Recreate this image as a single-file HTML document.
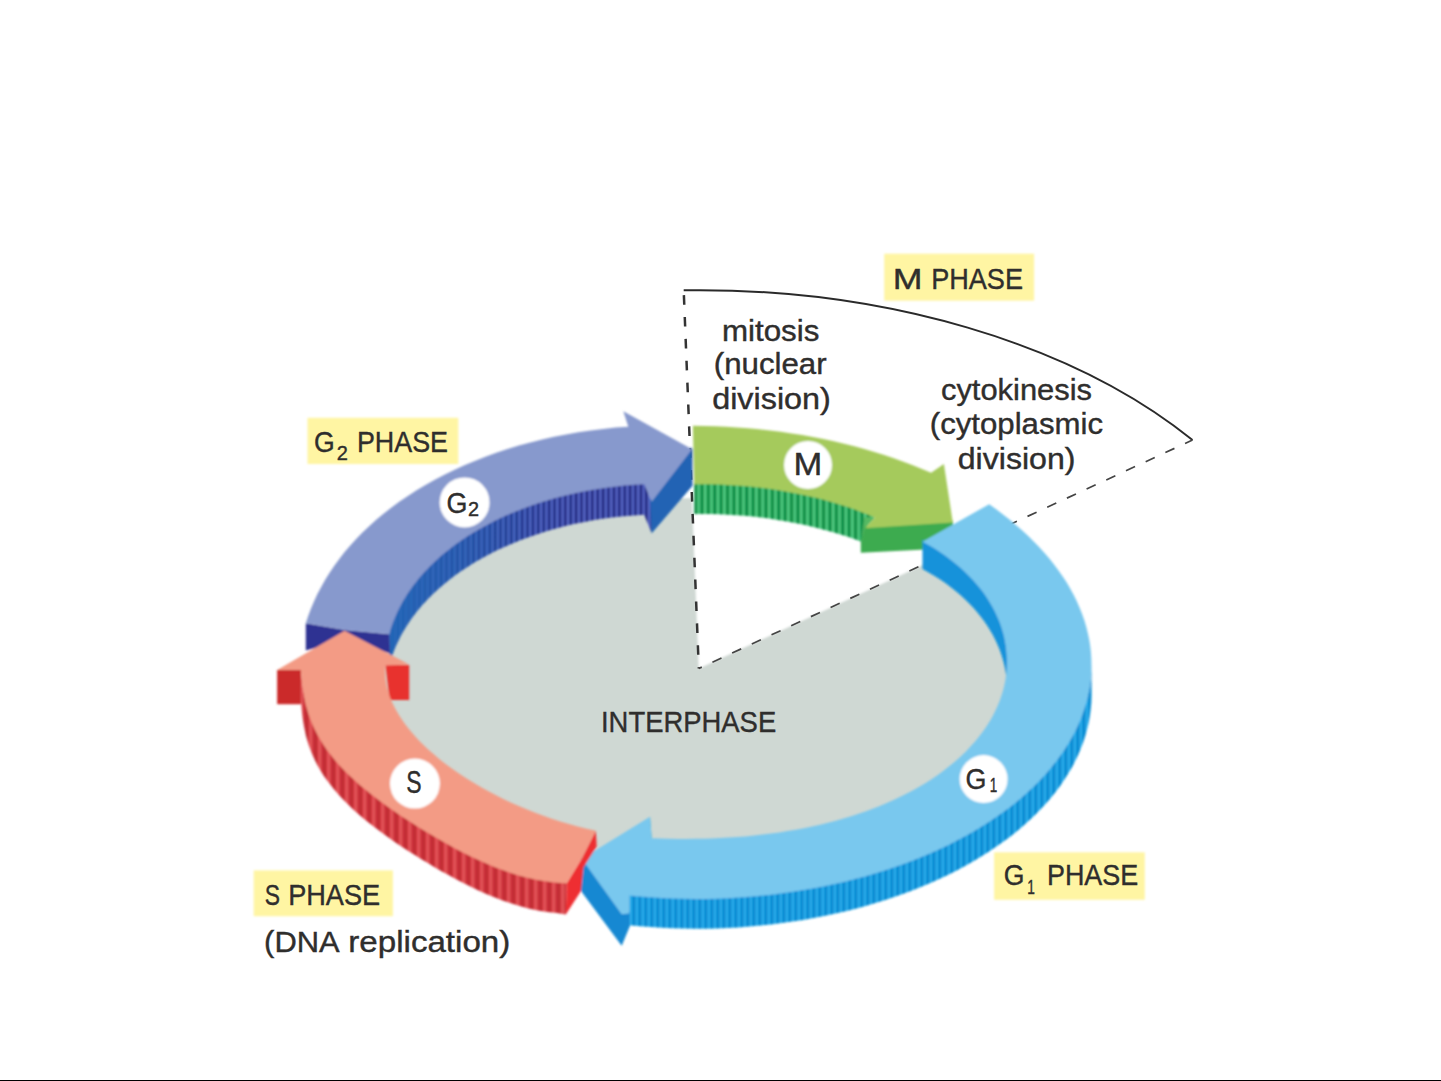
<!DOCTYPE html>
<html lang="en">
<head>
<meta charset="utf-8">
<title>The cell cycle</title>
<style>
html,body{margin:0;padding:0;background:#fff;}
body{width:1441px;height:1081px;overflow:hidden;position:relative;font-family:"Liberation Sans",sans-serif;}
svg{position:absolute;left:0;top:0;display:block;}
text{font-family:"Liberation Sans",sans-serif;fill:#2f2e2d;stroke:#2f2e2d;stroke-width:0.4px;}
</style>
</head>
<body>
<svg width="1441" height="1081" viewBox="0 0 1441 1081">
<defs>
<pattern id="stG2" width="5.4" height="8" patternUnits="userSpaceOnUse"><rect width="5.4" height="8" fill="#2a3390"/><rect x="0" width="2" height="8" fill="#5b6ccb"/><rect x="3.4" width="1" height="8" fill="#1d2474"/></pattern>
<pattern id="stM" width="6.4" height="8" patternUnits="userSpaceOnUse"><rect width="6.4" height="8" fill="#159a4e"/><rect x="0" width="2.2" height="8" fill="#58d088"/><rect x="4" width="1" height="8" fill="#0b803e"/></pattern>
<pattern id="stG1" width="6" height="8" patternUnits="userSpaceOnUse"><rect width="6" height="8" fill="#0a8ed4"/><rect x="0" width="1.6" height="8" fill="#35b8f4"/></pattern>
<pattern id="stS" width="9" height="8" patternUnits="userSpaceOnUse"><rect width="9" height="8" fill="#d7373f"/><rect x="0" width="1.4" height="8" fill="#ab2028"/><rect x="3.6" width="2.2" height="8" fill="#e4585c"/><rect x="6.8" width="0.9" height="8" fill="#bc2a32"/></pattern>
<linearGradient id="gwG2" gradientUnits="userSpaceOnUse" x1="390" x2="650" y1="0" y2="0"><stop offset="0" stop-color="#2468b8" stop-opacity="0.95"/><stop offset="0.3" stop-color="#2468b8" stop-opacity="0.6"/><stop offset="0.55" stop-color="#2468b8" stop-opacity="0.15"/><stop offset="0.72" stop-color="#2468b8" stop-opacity="0"/></linearGradient>
</defs>
<filter id="soft" x="0" y="0" width="1441" height="1081" filterUnits="userSpaceOnUse"><feGaussianBlur stdDeviation="0.85"/></filter>
<g filter="url(#soft)">
<ellipse cx="699" cy="684" rx="322" ry="186" fill="#cfd8d3"/>
<path d="M698.8 668.5 L683.7 290.3 A619 378 0 0 1 1192.5 440.0 Z" fill="#fff"/>
</g>
<path d="M683.7 290.3 A619 378 0 0 1 1192.5 440.0" fill="none" stroke="#2a2a2a" stroke-width="1.9"/>
<path d="M683.7 290.3 L698.8 668.5" fill="none" stroke="#333" stroke-width="2.5" stroke-dasharray="9.6 12.3" stroke-dashoffset="-4.8"/>
<path d="M1192.5 440.0 L698.8 668.5" fill="none" stroke="#444" stroke-width="1.7" stroke-dasharray="10 11.7" stroke-dashoffset="1.8"/>
<g filter="url(#soft)">
<path d="M694.2 482.2 L702.6 482.2 L711.0 482.3 L719.4 482.5 L727.8 482.9 L736.2 483.4 L744.5 484.0 L752.8 484.8 L761.1 485.8 L769.3 486.8 L777.4 488.1 L785.5 489.4 L793.5 490.9 L801.5 492.5 L809.3 494.2 L817.1 496.1 L824.7 498.1 L832.3 500.2 L839.7 502.5 L847.1 504.8 L854.2 507.3 L861.3 509.9 L868.2 512.7 L875.0 515.5 L865.0 528.3 L860.8 542.5 L861.3 541.7 L854.2 539.1 L847.1 536.6 L839.7 534.3 L832.3 532.0 L824.7 529.9 L817.1 527.9 L809.3 526.0 L801.5 524.3 L793.5 522.7 L785.5 521.2 L777.4 519.9 L769.3 518.6 L761.1 517.6 L752.8 516.6 L744.5 515.8 L736.2 515.2 L727.8 514.7 L719.4 514.3 L711.0 514.1 L702.6 514.0 L694.2 514.0 Z" fill="url(#stM)"/>
<path d="M875.0 517.5 L865.0 528.3 L860.8 542.5 L864.4 517.0 Z" fill="#55b964"/>
<path d="M865.0 526.0 L952.8 520.5 L953.6 548.0 L925.0 549.5 L860.8 552.8 L860.8 542.5 Z" fill="#3cab50"/>
<path d="M692.9 425.8 L704.0 425.9 L715.1 426.2 L726.1 426.7 L737.1 427.4 L748.1 428.2 L759.1 429.3 L770.0 430.5 L780.8 431.8 L791.6 433.4 L802.3 435.1 L812.9 437.0 L823.4 439.1 L833.8 441.3 L844.1 443.8 L854.4 446.3 L864.4 449.1 L874.4 452.0 L884.2 455.1 L893.9 458.3 L903.4 461.7 L912.8 465.3 L922.0 469.0 L931.1 472.8 L943.9 463.9 L952.8 522.6 L865.0 528.3 L875.0 517.5 L875.0 517.5 L868.2 514.7 L861.3 511.9 L854.2 509.3 L847.1 506.8 L839.7 504.5 L832.3 502.2 L824.7 500.1 L817.1 498.1 L809.3 496.2 L801.5 494.5 L793.5 492.9 L785.5 491.4 L777.4 490.1 L769.3 488.8 L761.1 487.8 L752.8 486.8 L744.5 486.0 L736.2 485.4 L727.8 484.9 L719.4 484.5 L711.0 484.3 L702.6 484.2 L694.2 484.2 Z" fill="#a5ca5c"/>
<path d="M389.2 632.2 L390.9 626.6 L392.8 621.0 L395.0 615.4 L397.4 609.9 L400.1 604.4 L403.1 599.0 L406.4 593.6 L409.9 588.2 L413.7 582.9 L417.8 577.7 L422.2 572.5 L426.9 567.4 L431.8 562.4 L437.1 557.5 L442.6 552.6 L448.4 547.9 L454.4 543.2 L460.8 538.7 L467.4 534.3 L474.3 530.0 L481.4 525.9 L488.8 521.9 L496.4 518.0 L504.3 514.3 L512.5 510.8 L520.8 507.5 L529.4 504.3 L538.1 501.3 L547.1 498.5 L556.2 495.8 L565.5 493.4 L575.0 491.2 L584.6 489.3 L594.3 487.5 L604.2 486.0 L614.1 484.7 L624.1 483.6 L634.1 482.8 L644.2 482.2 L651.7 501.7 L651.7 533.3 L644.2 514.8 L634.1 515.4 L624.1 516.2 L614.1 517.3 L604.2 518.6 L594.3 520.1 L584.6 521.9 L575.0 523.8 L565.5 526.0 L556.2 528.4 L547.1 531.1 L538.1 533.9 L529.4 536.9 L520.8 540.1 L512.5 543.4 L504.3 546.9 L496.4 550.6 L488.8 554.5 L481.4 558.5 L474.3 562.6 L467.4 566.9 L460.8 571.3 L454.4 575.8 L448.4 580.5 L442.6 585.2 L437.1 590.1 L431.8 595.0 L426.9 600.0 L422.2 605.1 L417.8 610.3 L413.7 615.5 L409.9 620.8 L406.4 626.2 L403.1 631.6 L400.1 637.0 L397.4 642.5 L395.0 648.0 L392.8 653.6 L390.9 659.2 L389.2 664.8 L389.5 654.0  Z" fill="url(#stG2)"/>
<path d="M389.2 632.2 L390.9 626.6 L392.8 621.0 L395.0 615.4 L397.4 609.9 L400.1 604.4 L403.1 599.0 L406.4 593.6 L409.9 588.2 L413.7 582.9 L417.8 577.7 L422.2 572.5 L426.9 567.4 L431.8 562.4 L437.1 557.5 L442.6 552.6 L448.4 547.9 L454.4 543.2 L460.8 538.7 L467.4 534.3 L474.3 530.0 L481.4 525.9 L488.8 521.9 L496.4 518.0 L504.3 514.3 L512.5 510.8 L520.8 507.5 L529.4 504.3 L538.1 501.3 L547.1 498.5 L556.2 495.8 L565.5 493.4 L575.0 491.2 L584.6 489.3 L594.3 487.5 L604.2 486.0 L614.1 484.7 L624.1 483.6 L634.1 482.8 L644.2 482.2 L651.7 501.7 L651.7 533.3 L644.2 514.8 L634.1 515.4 L624.1 516.2 L614.1 517.3 L604.2 518.6 L594.3 520.1 L584.6 521.9 L575.0 523.8 L565.5 526.0 L556.2 528.4 L547.1 531.1 L538.1 533.9 L529.4 536.9 L520.8 540.1 L512.5 543.4 L504.3 546.9 L496.4 550.6 L488.8 554.5 L481.4 558.5 L474.3 562.6 L467.4 566.9 L460.8 571.3 L454.4 575.8 L448.4 580.5 L442.6 585.2 L437.1 590.1 L431.8 595.0 L426.9 600.0 L422.2 605.1 L417.8 610.3 L413.7 615.5 L409.9 620.8 L406.4 626.2 L403.1 631.6 L400.1 637.0 L397.4 642.5 L395.0 648.0 L392.8 653.6 L390.9 659.2 L389.2 664.8 L389.5 654.0  Z" fill="url(#gwG2)"/>
<path d="M650.0 499.0 L691.0 447.0 L692.5 449.3 L692.5 485.8 L651.7 533.3 Z" fill="#2064b4"/>
<path d="M305.8 623.3 L345.0 630.0 L389.2 634.2 L390.0 653.3 L345.0 640.0 L305.8 650.6 Z" fill="#2f3192"/>
<path d="M305.8 623.3 L308.2 615.9 L311.0 608.6 L314.1 601.3 L317.4 594.1 L321.2 586.9 L325.2 579.8 L329.6 572.8 L334.3 565.8 L339.3 558.9 L344.6 552.1 L350.3 545.4 L356.4 538.8 L362.7 532.3 L369.4 525.9 L376.5 519.6 L383.8 513.5 L391.5 507.5 L399.6 501.6 L407.9 495.9 L416.6 490.3 L425.5 485.0 L434.8 479.7 L444.4 474.7 L454.2 469.9 L464.4 465.3 L474.8 460.9 L485.4 456.7 L496.3 452.8 L507.5 449.1 L518.9 445.6 L530.4 442.4 L542.2 439.4 L554.1 436.8 L566.2 434.4 L578.4 432.2 L590.8 430.4 L603.2 428.9 L615.7 427.6 L628.3 426.7 L623.3 411.3 L692.1 449.3 L651.7 501.7 L644.2 484.2 L644.2 484.2 L634.1 484.8 L624.1 485.6 L614.1 486.7 L604.2 488.0 L594.3 489.5 L584.6 491.3 L575.0 493.2 L565.5 495.4 L556.2 497.8 L547.1 500.5 L538.1 503.3 L529.4 506.3 L520.8 509.5 L512.5 512.8 L504.3 516.3 L496.4 520.0 L488.8 523.9 L481.4 527.9 L474.3 532.0 L467.4 536.3 L460.8 540.7 L454.4 545.2 L448.4 549.9 L442.6 554.6 L437.1 559.5 L431.8 564.4 L426.9 569.4 L422.2 574.5 L417.8 579.7 L413.7 584.9 L409.9 590.2 L406.4 595.6 L403.1 601.0 L400.1 606.4 L397.4 611.9 L395.0 617.4 L392.8 623.0 L390.9 628.6 L389.2 634.2 L345.0 630.0  Z" fill="#8799cd"/>
<path d="M1007.0 659.3 L1006.9 654.4 L1006.5 649.5 L1005.9 644.6 L1005.1 639.7 L1004.1 634.8 L1002.8 630.0 L1001.3 625.1 L999.6 620.3 L997.6 615.5 L995.4 610.8 L993.0 606.0 L990.4 601.4 L987.5 596.7 L984.4 592.1 L981.0 587.6 L977.4 583.2 L973.6 578.8 L969.5 574.4 L965.2 570.2 L960.7 566.0 L955.9 561.9 L950.9 557.9 L945.7 554.0 L940.2 550.3 L934.6 546.6 L928.6 543.1 L922.5 539.7 L922.5 569.0 L928.6 572.4 L934.6 575.9 L940.2 579.6 L945.7 583.3 L950.9 587.2 L955.9 591.2 L960.7 595.3 L965.2 599.5 L969.5 603.7 L973.6 608.1 L977.4 612.5 L981.0 616.9 L984.4 621.4 L987.5 626.0 L990.4 630.7 L993.0 635.3 L995.4 640.1 L997.6 644.8 L999.6 649.6 L1001.3 654.4 L1002.8 659.3 L1004.1 664.1 L1005.1 669.0 L1005.9 673.9 L1006.5 678.8 L1006.9 683.7 L1007.0 688.6 Z" fill="#1292da"/>
<path d="M1091.5 664.3 L1091.3 670.9 L1090.7 677.4 L1089.9 684.0 L1088.7 690.6 L1087.2 697.1 L1085.4 703.6 L1083.3 710.1 L1080.9 716.5 L1078.2 722.9 L1075.2 729.3 L1071.9 735.6 L1068.2 741.8 L1064.3 748.0 L1060.1 754.1 L1055.6 760.1 L1050.8 766.1 L1045.8 772.0 L1040.4 777.7 L1034.8 783.4 L1028.9 789.0 L1022.8 794.5 L1016.4 799.9 L1009.8 805.2 L1002.9 810.3 L995.7 815.3 L988.4 820.3 L980.8 825.0 L973.0 829.7 L965.0 834.2 L956.8 838.6 L948.4 842.9 L939.8 847.0 L931.0 850.9 L922.0 854.8 L912.8 858.4 L903.5 861.9 L894.1 865.3 L884.5 868.5 L874.7 871.5 L864.8 874.4 L854.8 877.1 L844.7 879.7 L834.4 882.0 L824.1 884.2 L813.6 886.3 L803.1 888.1 L792.5 889.8 L781.8 891.3 L771.0 892.7 L760.2 893.8 L749.4 894.8 L738.5 895.6 L727.6 896.2 L716.6 896.7 L705.6 896.9 L694.7 897.0 L683.7 896.8 L672.7 896.5 L661.8 896.0 L650.9 895.3 L640.0 894.5 L629.2 893.4 L629.2 925.2 L640.0 926.3 L650.9 927.1 L661.8 927.8 L672.7 928.3 L683.7 928.6 L694.7 928.8 L705.6 928.7 L716.6 928.5 L727.6 928.0 L738.5 927.4 L749.4 926.6 L760.2 925.6 L771.0 924.5 L781.8 923.1 L792.5 921.6 L803.1 919.9 L813.6 918.1 L824.1 916.0 L834.4 913.8 L844.7 911.5 L854.8 908.9 L864.8 906.2 L874.7 903.3 L884.5 900.3 L894.1 897.1 L903.5 893.7 L912.8 890.2 L922.0 886.6 L931.0 882.7 L939.8 878.8 L948.4 874.7 L956.8 870.4 L965.0 866.0 L973.0 861.5 L980.8 856.8 L988.4 852.1 L995.7 847.1 L1002.9 842.1 L1009.8 837.0 L1016.4 831.7 L1022.8 826.3 L1028.9 820.8 L1034.8 815.2 L1040.4 809.5 L1045.8 803.8 L1050.8 797.9 L1055.6 791.9 L1060.1 785.9 L1064.3 779.8 L1068.2 773.6 L1071.9 767.4 L1075.2 761.1 L1078.2 754.7 L1080.9 748.3 L1083.3 741.9 L1085.4 735.4 L1087.2 728.9 L1088.7 722.4 L1089.9 715.8 L1090.7 709.2 L1091.3 702.7 L1091.5 696.1 Z" fill="url(#stG1)"/>
<path d="M583.0 857.0 L624.0 912.0 L630.0 911.5 L630.0 925.8 L621.7 945.8 L580.8 890.8 L580.8 859.0 Z" fill="#1488d2"/>
<path d="M646.7 835 L650 816.7 L651.7 838.3 Z" fill="#169ec0"/>
<path d="M989.2 504.2 L996.2 509.2 L1003.0 514.4 L1009.5 519.6 L1015.9 524.9 L1022.0 530.3 L1028.0 535.8 L1033.7 541.4 L1039.1 547.0 L1044.3 552.8 L1049.3 558.6 L1054.0 564.5 L1058.5 570.5 L1062.7 576.5 L1066.7 582.6 L1070.3 588.8 L1073.7 595.0 L1076.8 601.3 L1079.6 607.7 L1082.1 614.1 L1084.4 620.5 L1086.3 627.0 L1087.9 633.5 L1089.3 640.0 L1090.3 646.5 L1091.0 653.1 L1091.4 659.7 L1091.5 666.3 L1091.3 672.9 L1090.7 679.4 L1089.9 686.0 L1088.7 692.6 L1087.2 699.1 L1085.4 705.6 L1083.3 712.1 L1080.9 718.5 L1078.2 724.9 L1075.2 731.3 L1071.9 737.6 L1068.2 743.8 L1064.3 750.0 L1060.1 756.1 L1055.6 762.1 L1050.8 768.1 L1045.8 774.0 L1040.4 779.7 L1034.8 785.4 L1028.9 791.0 L1022.8 796.5 L1016.4 801.9 L1009.8 807.2 L1002.9 812.3 L995.7 817.3 L988.4 822.3 L980.8 827.0 L973.0 831.7 L965.0 836.2 L956.8 840.6 L948.4 844.9 L939.8 849.0 L931.0 852.9 L922.0 856.8 L912.8 860.4 L903.5 863.9 L894.1 867.3 L884.5 870.5 L874.7 873.5 L864.8 876.4 L854.8 879.1 L844.7 881.7 L834.4 884.0 L824.1 886.2 L813.6 888.3 L803.1 890.1 L792.5 891.8 L781.8 893.3 L771.0 894.7 L760.2 895.8 L749.4 896.8 L738.5 897.6 L727.6 898.2 L716.6 898.7 L705.6 898.9 L694.7 899.0 L683.7 898.8 L672.7 898.5 L661.8 898.0 L650.9 897.3 L640.0 896.5 L629.2 895.4 L629.2 913.5 L621.7 914.2 L581.7 858.8 L650.0 816.7 L651.7 838.3 L660.3 838.6 L668.9 838.8 L677.5 838.9 L686.1 838.9 L694.6 838.8 L703.2 838.7 L711.7 838.4 L720.3 838.1 L728.8 837.6 L737.3 837.0 L745.8 836.4 L754.2 835.6 L762.6 834.6 L771.0 833.6 L779.3 832.4 L787.6 831.1 L795.8 829.7 L804.0 828.2 L812.1 826.5 L820.1 824.7 L828.0 822.8 L835.8 820.7 L843.5 818.5 L851.1 816.2 L858.6 813.8 L866.0 811.2 L873.3 808.5 L880.4 805.7 L887.3 802.8 L894.1 799.7 L900.8 796.6 L907.3 793.3 L913.6 789.9 L919.7 786.5 L925.7 782.9 L931.5 779.2 L937.1 775.4 L942.5 771.5 L947.6 767.6 L952.6 763.5 L957.4 759.4 L962.0 755.2 L966.4 751.0 L970.5 746.6 L974.4 742.2 L978.1 737.8 L981.6 733.3 L984.9 728.7 L988.0 724.1 L990.8 719.4 L993.4 714.7 L995.7 710.0 L997.9 705.2 L999.8 700.4 L1001.5 695.6 L1003.0 690.7 L1004.2 685.9 L1005.2 681.0 L1006.0 676.1 L1006.6 671.2 L1006.9 666.2 L1007.0 661.3 L1006.9 656.4 L1006.5 651.5 L1005.9 646.6 L1005.1 641.7 L1004.1 636.8 L1002.8 632.0 L1001.3 627.1 L999.6 622.3 L997.6 617.5 L995.4 612.8 L993.0 608.0 L990.4 603.4 L987.5 598.7 L984.4 594.1 L981.0 589.6 L977.4 585.2 L973.6 580.8 L969.5 576.4 L965.2 572.2 L960.7 568.0 L955.9 563.9 L950.9 559.9 L945.7 556.0 L940.2 552.3 L934.6 548.6 L928.6 545.1 L922.5 541.7 Z" fill="#79c8ee"/>
<path d="M300.8 668.0 L301.3 673.8 L301.9 679.6 L302.6 685.4 L303.5 691.1 L304.6 696.9 L305.8 702.7 L307.4 708.4 L309.2 714.1 L311.3 719.8 L313.8 725.5 L316.5 731.1 L319.6 736.6 L322.9 742.1 L326.6 747.5 L330.6 752.8 L334.8 758.0 L339.3 763.2 L344.1 768.3 L349.1 773.2 L354.3 778.1 L359.7 782.9 L365.3 787.6 L371.1 792.3 L377.0 796.8 L383.0 801.3 L389.2 805.7 L395.4 810.1 L401.8 814.4 L408.3 818.6 L414.8 822.8 L421.4 826.9 L428.2 831.0 L435.0 835.1 L441.9 839.1 L449.0 843.0 L456.1 846.9 L463.4 850.7 L470.9 854.4 L478.5 858.1 L486.3 861.6 L494.3 864.9 L502.5 868.1 L510.9 871.0 L519.6 873.7 L528.5 876.1 L537.7 878.1 L547.1 879.6 L556.8 880.8 L566.7 881.3 L565.8 914.6  L556.8 913.1 L547.1 911.9 L537.7 910.4 L528.5 908.4 L519.6 906.0 L510.9 903.3 L502.5 900.4 L494.3 897.2 L486.3 893.9 L478.5 890.4 L470.9 886.7 L463.4 883.0 L456.1 879.2 L449.0 875.3 L441.9 871.4 L435.0 867.4 L428.2 863.3 L421.4 859.2 L414.8 855.1 L408.3 850.9 L401.8 846.7 L395.4 842.4 L389.2 838.0 L383.0 833.6 L377.0 829.1 L371.1 824.6 L365.3 819.9 L359.7 815.2 L354.3 810.4 L349.1 805.5 L344.1 800.6 L339.3 795.5 L334.8 790.3 L330.6 785.1 L326.6 779.8 L322.9 774.4 L319.6 768.9 L316.5 763.4 L313.8 757.8 L311.3 752.1 L309.2 746.4 L307.4 740.7 L305.8 735.0 L304.6 729.2 L303.5 723.4 L302.6 717.7 L301.9 711.9 L301.3 706.1 L300.8 700.3 Z" fill="url(#stS)"/>
<path d="M277.1 670 L301 670 L301 704.2 L277.1 704.2 Z" fill="#cb2b2c"/>
<path d="M385.4 665 L409.2 665 L409.2 700 L389.5 700 Z" fill="#e8302f"/>
<path d="M595.8 830.8 L596.7 846.5 L583.5 867.5 L581.0 891.0 L570.0 908.0 L565.8 914.6 L566.7 883.3 L581.7 858.5 Z" fill="#ee2f33"/>
<path d="M344.6 630.8 L409.2 664.6 L385.4 665.5 L385.1 671.1 L385.3 676.6 L386.0 682.2 L387.1 687.8 L388.7 693.3 L390.6 698.7 L393.0 704.2 L395.7 709.5 L398.8 714.8 L402.2 720.0 L405.9 725.2 L409.9 730.3 L414.2 735.2 L418.7 740.2 L423.5 745.0 L428.5 749.7 L433.8 754.3 L439.2 758.9 L444.9 763.4 L450.8 767.7 L456.8 772.0 L463.1 776.2 L469.5 780.3 L476.1 784.3 L482.9 788.2 L489.9 792.1 L497.0 795.8 L504.3 799.4 L511.8 802.9 L519.4 806.3 L527.2 809.6 L535.2 812.7 L543.4 815.8 L551.7 818.7 L560.2 821.4 L568.9 824.0 L577.7 826.5 L586.7 828.7 L595.8 830.8 L581.7 858.5  L566.7 883.3 L556.8 882.8 L547.1 881.6 L537.7 880.1 L528.5 878.1 L519.6 875.7 L510.9 873.0 L502.5 870.1 L494.3 866.9 L486.3 863.6 L478.5 860.1 L470.9 856.4 L463.4 852.7 L456.1 848.9 L449.0 845.0 L441.9 841.1 L435.0 837.1 L428.2 833.0 L421.4 828.9 L414.8 824.8 L408.3 820.6 L401.8 816.4 L395.4 812.1 L389.2 807.7 L383.0 803.3 L377.0 798.8 L371.1 794.3 L365.3 789.6 L359.7 784.9 L354.3 780.1 L349.1 775.2 L344.1 770.3 L339.3 765.2 L334.8 760.0 L330.6 754.8 L326.6 749.5 L322.9 744.1 L319.6 738.6 L316.5 733.1 L313.8 727.5 L311.3 721.8 L309.2 716.1 L307.4 710.4 L305.8 704.7 L304.6 698.9 L303.5 693.1 L302.6 687.4 L301.9 681.6 L301.3 675.8 L300.8 670.0 L277.1 670.0  Z" fill="#f39b85"/>
<circle cx="464.6" cy="502.4" r="25.0" fill="#fff"/>
<circle cx="808.0" cy="465.0" r="24.0" fill="#fff"/>
<circle cx="983.6" cy="779.1" r="24.0" fill="#fff"/>
<circle cx="414.9" cy="783.6" r="25.0" fill="#fff"/>
<rect x="307.5" y="417.8" width="150.8" height="46.2" fill="#fff5a3"/>
<rect x="884.2" y="253.7" width="149.9" height="47.0" fill="#fff5a3"/>
<rect x="994.1" y="852.3" width="150.7" height="47.5" fill="#fff5a3"/>
<rect x="253.7" y="870.4" width="139.2" height="45.8" fill="#fff5a3"/>
</g>
<text><tspan x="314.07" y="451.5" font-size="30.0" textLength="20.71" lengthAdjust="spacingAndGlyphs">G</tspan><tspan x="336.71" y="459.5" font-size="20.5" textLength="11.11" lengthAdjust="spacingAndGlyphs">2</tspan> <tspan x="356.94" y="451.5" font-size="30.0" textLength="91.11" lengthAdjust="spacingAndGlyphs">PHASE</tspan></text>
<text><tspan x="892.69" y="289.0" font-size="30.0" textLength="29.77" lengthAdjust="spacingAndGlyphs">M</tspan> <tspan x="931.15" y="289.0" font-size="30.0" textLength="91.89" lengthAdjust="spacingAndGlyphs">PHASE</tspan></text>
<text><tspan x="1003.79" y="885.3" font-size="30.0" textLength="20.71" lengthAdjust="spacingAndGlyphs">G</tspan><tspan x="1027.27" y="894.3" font-size="20.5" textLength="7.62" lengthAdjust="spacingAndGlyphs">1</tspan> <tspan x="1046.93" y="885.3" font-size="30.0" textLength="91.27" lengthAdjust="spacingAndGlyphs">PHASE</tspan></text>
<text><tspan x="264.77" y="904.8" font-size="30.0" textLength="15.25" lengthAdjust="spacingAndGlyphs">S</tspan> <tspan x="288.13" y="904.8" font-size="30.0" textLength="92.11" lengthAdjust="spacingAndGlyphs">PHASE</tspan></text>
<text><tspan x="264.14" y="952.0" font-size="30.0" textLength="75.48" lengthAdjust="spacingAndGlyphs">(DNA</tspan> <tspan x="348.35" y="952.0" font-size="30.0" textLength="161.87" lengthAdjust="spacingAndGlyphs">replication)</tspan></text>
<text><tspan x="600.96" y="732.0" font-size="30.0" textLength="175.27" lengthAdjust="spacingAndGlyphs">INTERPHASE</tspan></text>
<text><tspan x="721.94" y="340.6" font-size="29.5" textLength="97.48" lengthAdjust="spacingAndGlyphs">mitosis</tspan> <tspan x="713.75" y="374.2" font-size="29.5" textLength="112.85" lengthAdjust="spacingAndGlyphs">(nuclear</tspan> <tspan x="712.15" y="408.8" font-size="29.5" textLength="118.71" lengthAdjust="spacingAndGlyphs">division)</tspan></text>
<text><tspan x="940.99" y="400.0" font-size="29.5" textLength="151.03" lengthAdjust="spacingAndGlyphs">cytokinesis</tspan> <tspan x="929.79" y="434.4" font-size="29.5" textLength="173.22" lengthAdjust="spacingAndGlyphs">(cytoplasmic</tspan> <tspan x="957.77" y="468.6" font-size="29.5" textLength="117.68" lengthAdjust="spacingAndGlyphs">division)</tspan></text>
<text><tspan x="446.43" y="512.6" font-size="30.0" textLength="20.92" lengthAdjust="spacingAndGlyphs">G</tspan><tspan x="467.99" y="516.3" font-size="19.5" textLength="11.07" lengthAdjust="spacingAndGlyphs">2</tspan></text>
<text><tspan x="793.60" y="475.2" font-size="31.0" textLength="28.80" lengthAdjust="spacingAndGlyphs">M</tspan></text>
<text><tspan x="965.43" y="789.3" font-size="30.0" textLength="20.92" lengthAdjust="spacingAndGlyphs">G</tspan><tspan x="989.64" y="792.3" font-size="19.5" textLength="7.51" lengthAdjust="spacingAndGlyphs">1</tspan></text>
<text><tspan x="406.15" y="793.3" font-size="31.5" textLength="15.36" lengthAdjust="spacingAndGlyphs">S</tspan></text>
<rect x="0" y="1080" width="1441" height="1" fill="#000"/>
</svg>
</body>
</html>
